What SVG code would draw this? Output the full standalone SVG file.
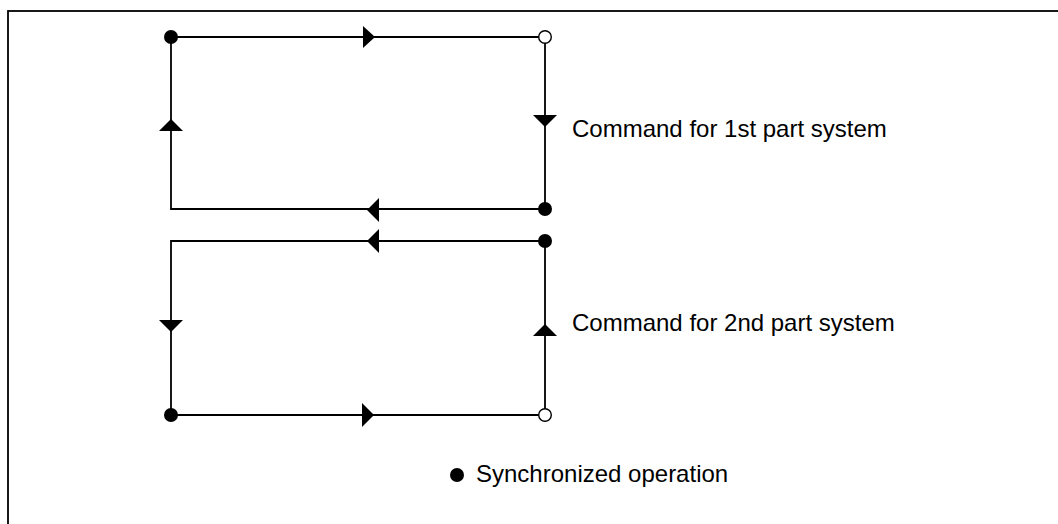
<svg xmlns="http://www.w3.org/2000/svg" width="1058" height="524" viewBox="0 0 1058 524">
<style>
.ln{fill:none;stroke:#000;stroke-width:1.8}
.ar{fill:#000}
.dot{fill:#000}
.open{fill:#fff;stroke:#000;stroke-width:1.4}
.t{font-family:"Liberation Sans",Arial,sans-serif;font-size:24px;fill:#000}
</style>
<rect x="8" y="11" width="1100" height="600" fill="#fff" stroke="#000" stroke-width="1.8"/>
<g id="connectors">
  <path class="ln" d="M171,37 H545 V209 H171 Z"/>
  <path class="ln" d="M545,241 H171 V415 H545 Z"/>
  <polygon class="ar" points="363,26 375,37 363,48"/>
  <polygon class="ar" points="533,115 557,115 545,127"/>
  <polygon class="ar" points="379,198 367,210 379,222"/>
  <polygon class="ar" points="159,131 183,131 171,119"/>
  <polygon class="ar" points="379,229 367,241 379,253"/>
  <polygon class="ar" points="159,320 183,320 171,332"/>
  <polygon class="ar" points="533,336 557,336 545,324"/>
  <polygon class="ar" points="362,403 374,415 362,427"/>
</g>
<g id="n1"><circle class="dot" cx="171" cy="37" r="7"/></g>
<g id="n2"><circle class="open" cx="545" cy="37" r="6.3"/></g>
<g id="n3"><circle class="dot" cx="545" cy="209" r="7"/></g>
<g id="n4"><circle class="dot" cx="545" cy="241" r="7"/></g>
<g id="n5"><circle class="dot" cx="171" cy="415" r="7"/></g>
<g id="n6"><circle class="open" cx="545" cy="415" r="6.3"/></g>
<g id="label1"><text class="t" x="572" y="137">Command for 1st part system</text></g>
<g id="label2"><text class="t" x="572" y="331">Command for 2nd part system</text></g>
<g id="legend">
  <circle class="dot" cx="457" cy="475" r="7"/>
  <text class="t" x="476" y="482">Synchronized operation</text>
</g>
</svg>
